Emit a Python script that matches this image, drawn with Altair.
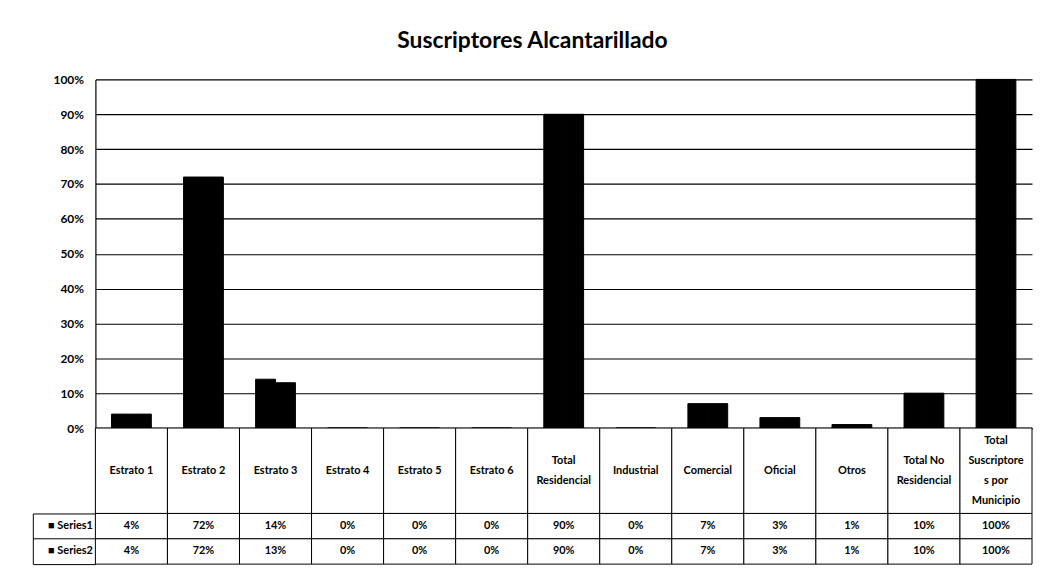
import altair as alt
import pandas as pd

# ---- data ----
categories = [
    "Estrato 1", "Estrato 2", "Estrato 3", "Estrato 4", "Estrato 5", "Estrato 6",
    "Total\nResidencial", "Industrial", "Comercial", "Oficial", "Otros",
    "Total No\nResidencial", "Total\nSuscriptore\ns por\nMunicipio",
]
series_names = ["Series1", "Series2"]
series1 = [0.04, 0.72, 0.14, 0.0, 0.0, 0.0, 0.90, 0.0, 0.07, 0.03, 0.01, 0.10, 1.00]
series2 = [0.04, 0.72, 0.13, 0.0, 0.0, 0.0, 0.90, 0.0, 0.07, 0.03, 0.01, 0.10, 1.00]
y_ticks = [0.0, 0.1, 0.2, 0.3, 0.4, 0.5, 0.6, 0.7, 0.8, 0.9, 1.0]
title_text = "Suscriptores Alcantarillado"

rows = []
for name, vals in zip(series_names, [series1, series2]):
    for c, v in zip(categories, vals):
        rows.append({"categoria": c, "serie": name, "valor": v})
df = pd.DataFrame(rows)

# one row per printed line of each category label, ranked around the middle
label_rows = []
for c in categories:
    parts = c.split("\n")
    n = len(parts)
    for i, p in enumerate(parts):
        label_rows.append({"categoria": c, "linea": p, "orden": (n - 1) / 2 - i})
df_labels = pd.DataFrame(label_rows)
df_cats = pd.DataFrame({"categoria": categories})

FONT = "Lato"
W = 943
PLOT_H = 351
LABEL_ROW = 86
TABLE_H = 51
AXIS_EXT = 63
LINE_STEP = 20  # pixels between wrapped label lines

x_scale = alt.Scale(paddingInner=0, paddingOuter=0)

bars = alt.Chart(df).mark_bar(color="black", stroke="black", strokeWidth=1).encode(
    x=alt.X("categoria:N", sort=categories, scale=x_scale,
            axis=alt.Axis(title=None, labels=False, ticks=False, grid=False,
                          domainColor="black", domainWidth=1.5)),
    xOffset=alt.XOffset("serie:N", sort=series_names,
                        scale=alt.Scale(paddingInner=0, paddingOuter=0.81)),
    y=alt.Y(
        "valor:Q",
        scale=alt.Scale(domain=[0, 1], nice=False),
        axis=alt.Axis(
            title=None, values=y_ticks, format=".0%", grid=True,
            gridColor="black", gridWidth=1.2, ticks=False, domainColor="black",
            domainWidth=1.2, labelPadding=12, labelFont=FONT, labelFontSize=12,
            labelFontWeight="bold", labelColor="black",
            minExtent=AXIS_EXT, maxExtent=AXIS_EXT,
        ),
    ),
).properties(width=W, height=PLOT_H)

# ---- category label row ----
x_plain = alt.X("categoria:N", sort=categories, scale=x_scale, axis=None)
half = LABEL_ROW / 2 / LINE_STEP

label_cells = alt.Chart(df_cats).mark_rect(
    fill="white", stroke="black", strokeWidth=1
).encode(x=x_plain)

label_text = alt.Chart(df_labels).mark_text(
    font=FONT, fontSize=11, fontWeight="bold", color="black", baseline="middle"
).encode(
    x=x_plain,
    y=alt.Y("orden:Q", scale=alt.Scale(domain=[-half, half], nice=False, zero=False),
            axis=alt.Axis(title=None, labels=False, ticks=False, grid=False,
                          domain=True, domainColor="black",
                          minExtent=AXIS_EXT, maxExtent=AXIS_EXT)),
    text="linea:N",
)

label_row = alt.layer(label_cells, label_text).properties(width=W, height=LABEL_ROW)

# ---- data table ----
cells = alt.Chart(df).mark_rect(fill="white", stroke="black", strokeWidth=1).encode(
    x=x_plain,
    y=alt.Y(
        "serie:N", sort=series_names,
        scale=alt.Scale(paddingInner=0, paddingOuter=0),
        axis=alt.Axis(
            title=None, bandPosition=1, tickExtra=True, tickSize=AXIS_EXT,
            tickColor="black", tickWidth=1, grid=False, domain=False,
            labelPadding=-(AXIS_EXT - 3), labelAlign="right",
            labelExpr="datum.label ? '\u25a0 ' + datum.label : ''",
            labelFont=FONT, labelFontSize=11, labelFontWeight="bold",
            labelColor="black", minExtent=AXIS_EXT, maxExtent=AXIS_EXT,
        ),
    ),
)

values = alt.Chart(df).mark_text(
    font=FONT, fontSize=11, fontWeight="bold", color="black"
).encode(
    x=x_plain,
    y=alt.Y(
        "serie:N", sort=series_names,
        scale=alt.Scale(paddingInner=0, paddingOuter=0),
        axis=alt.Axis(title=None, labels=False, ticks=False, grid=False,
                      domain=True, domainColor="black", domainWidth=1,
                      orient="left", offset=AXIS_EXT),
    ),
    text=alt.Text("valor:Q", format=".0%"),
)

table = alt.layer(cells, values).resolve_axis(y="independent").properties(
    width=W, height=TABLE_H
)

chart = alt.vconcat(bars, label_row, table, spacing=0, bounds="flush").properties(
    title=alt.Title(title_text, font=FONT, fontSize=23, fontWeight="bold",
                    color="black", anchor="middle", offset=21),
    padding={"left": 24, "top": 20, "right": 0, "bottom": 0},
    background="white",
).configure_view(stroke=None)

chart.save("out.html", embed_options={"renderer": "svg", "actions": False})
